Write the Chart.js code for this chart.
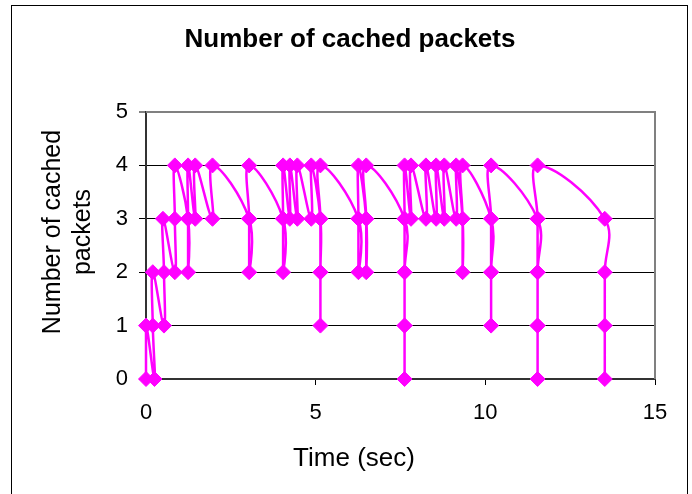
<!DOCTYPE html>
<html>
<head>
<meta charset="utf-8">
<script src="https://cdn.jsdelivr.net/npm/chart.js@4"></script>
<style>
  html, body { margin: 0; padding: 0; background: #fff; }
</style>
</head>
<body>
<canvas id="cache-chart" width="692" height="494"></canvas>
<script>
// events in the order they were logged: time (sec) and cache size after the event
var timeSec = [0, 0, 0.25, 0.2, 0.2, 0.53, 0.53, 0.5, 0.85, 0.85, 0.85,
  1.24, 1.24, 1.24, 1.24, 1.45, 1.45, 1.96, 1.96,
  3.04, 3.04, 3.04, 3.04, 4.04, 4.04, 4.04, 4.04, 4.24, 4.24, 4.46, 4.46, 4.87, 4.87,
  5.14, 5.14, 5.14, 5.14, 5.14, 5.14, 6.26, 6.26, 6.26, 6.26, 6.49, 6.49, 6.49, 6.49,
  7.62, 7.62, 7.62, 7.62, 7.62, 7.62, 7.62, 7.62, 7.81, 7.81, 8.25, 8.25, 8.55, 8.55,
  8.79, 8.79, 9.14, 9.14, 9.33, 9.33, 9.33, 9.33,
  10.17, 10.17, 10.17, 10.17, 10.17, 10.17,
  11.54, 11.54, 11.54, 11.54, 11.54, 11.54, 11.54, 11.54,
  13.52, 13.52, 13.52, 13.52];
var cachedCount = [0, 1, 0, 1, 2, 1, 2, 3, 2, 3, 4,
  3, 2, 3, 4, 3, 4, 3, 4,
  3, 2, 3, 4, 3, 2, 3, 4, 3, 4, 3, 4, 3, 4,
  3, 2, 1, 2, 3, 4, 3, 2, 3, 4, 3, 2, 3, 4,
  3, 2, 1, 0, 1, 2, 3, 4, 3, 4, 3, 4, 3, 4,
  3, 4, 3, 4, 3, 2, 3, 4,
  3, 2, 1, 2, 3, 4,
  3, 2, 1, 0, 1, 2, 3, 4,
  3, 2, 1, 0];

var chartTitle = 'Number of cached packets';
var xTitle = 'Time (sec)';
var yTitle = ['Number of cached', 'packets'];

var points = timeSec.map(function (t, i) { return { x: t, y: cachedCount[i] }; });
var font = "'Liberation Sans', Arial, sans-serif";

// frame, plot border and the titles (Excel centres them on the whole chart)
var decorations = {
  id: 'decorations',
  beforeDatasetsDraw: function (chart) {
    var ctx = chart.ctx, a = chart.chartArea;
    ctx.save();
    ctx.strokeStyle = '#808080';
    ctx.lineWidth = 2;
    ctx.beginPath();
    ctx.moveTo(a.left, a.top);
    ctx.lineTo(a.right, a.top);
    ctx.lineTo(a.right, a.bottom);
    ctx.stroke();
    ctx.restore();
  },
  afterDraw: function (chart) {
    var ctx = chart.ctx;
    ctx.save();
    ctx.strokeStyle = '#000';
    ctx.lineWidth = 1;
    ctx.strokeRect(11.5, 5.5, 676, 492);
    ctx.fillStyle = '#000';
    ctx.textAlign = 'center';
    ctx.textBaseline = 'middle';
    ctx.font = 'bold 26px ' + font;
    ctx.fillText(chartTitle, 350, 40);
    ctx.font = '26px ' + font;
    ctx.fillText(xTitle, 354, 459);
    ctx.font = '25px ' + font;
    ctx.translate(0, 232);
    ctx.rotate(-Math.PI / 2);
    ctx.fillText(yTitle[0], 0, 53);
    ctx.fillText(yTitle[1], 0, 83);
    ctx.restore();
  }
};

new Chart(document.getElementById('cache-chart'), {
  type: 'scatter',
  data: {
    datasets: [{
      data: points,
      showLine: true,
      tension: 0.4,
      borderColor: '#FF00FF',
      borderWidth: 2.5,
      backgroundColor: '#FF00FF',
      pointStyle: 'rectRot',
      pointRadius: 7.5,
      pointBorderWidth: 1,
      pointBorderColor: '#FF00FF',
      pointBackgroundColor: '#FF00FF',
      clip: false
    }]
  },
  options: {
    responsive: false,
    animation: false,
    layout: { padding: { top: 112, right: 37, left: 0, bottom: 0 } },
    plugins: {
      legend: { display: false },
      tooltip: { enabled: false },
      title: { display: false }
    },
    scales: {
      x: {
        type: 'linear',
        min: 0,
        max: 15,
        afterFit: function (s) { s.height = 115; },
        ticks: { stepSize: 5, color: '#000', padding: 15, font: { family: font, size: 22 } },
        grid: { drawOnChartArea: false, tickLength: 6, color: '#000' },
        border: { color: '#333', width: 2 }
      },
      y: {
        min: 0,
        max: 5,
        afterFit: function (s) { s.width = 146; },
        ticks: { stepSize: 1, color: '#000', padding: 11, font: { family: font, size: 22 } },
        grid: {
          tickLength: 7,
          color: function (c) { return c.tick && c.tick.value === 5 ? '#808080' : '#000'; },
          lineWidth: function (c) { return c.tick && c.tick.value === 5 ? 2 : 1; }
        },
        border: { color: '#333', width: 2 }
      }
    }
  },
  plugins: [decorations]
});
</script>
</body>
</html>
